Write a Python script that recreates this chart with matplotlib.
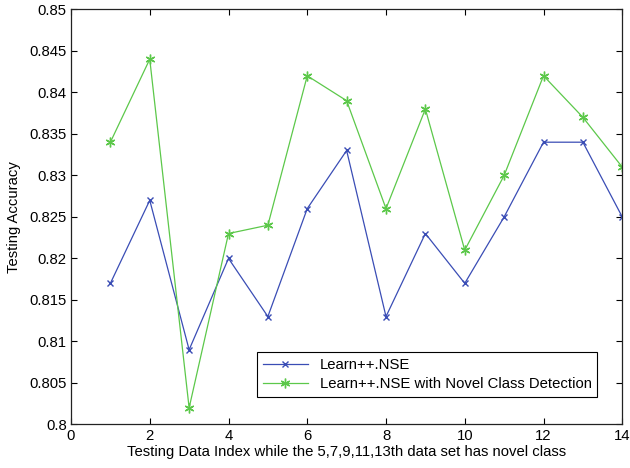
import numpy as np
import matplotlib.pyplot as plt

plt.rcParams['font.family'] = ['Liberation Sans', 'DejaVu Sans']

# Dados
indices = np.arange(1, 15)
nse = [0.817, 0.827, 0.809, 0.820, 0.813, 0.826, 0.833,
       0.813, 0.823, 0.817, 0.825, 0.834, 0.834, 0.825]
nse_novel = [0.834, 0.844, 0.802, 0.823, 0.824, 0.842, 0.839,
             0.826, 0.838, 0.821, 0.830, 0.842, 0.837, 0.831]
xticks = np.arange(0, 15, 2)
yticks = np.arange(0.8, 0.8501, 0.005)

fig = plt.figure(figsize=(6.3, 4.68), dpi=100)
ax = fig.add_axes([0.1127, 0.093, 0.875, 0.887])

ax.plot(indices, nse, color='#3a4db5', marker='x', markersize=4,
        linewidth=0.9, label='Learn++.NSE')
ax.plot(indices, nse_novel, color='#5cc84a', marker=(6, 2, 0), markersize=7,
        markeredgewidth=1.0, linewidth=0.9,
        label='Learn++.NSE with Novel Class Detection')

ax.set_xlim(0, 14)
ax.set_ylim(0.8, 0.85)
ax.set_xticks(xticks)
ax.set_yticks(yticks)
ax.set_yticklabels([f'{v:g}' for v in np.round(yticks, 3)])
ax.tick_params(direction='in', top=True, right=True, labelsize=10.7, length=4,
               pad=3)
for s in ax.spines.values():
    s.set_linewidth(0.9)
    s.set_color('#222222')

ax.set_xlabel('Testing Data Index while the 5,7,9,11,13th data set has novel class',
              fontsize=10.7, labelpad=2)
ax.set_ylabel('Testing Accuracy', fontsize=10.7, labelpad=6)

leg = ax.legend(loc='lower right', bbox_to_anchor=(0.955, 0.066), fontsize=10.7,
                fancybox=False, edgecolor='black', framealpha=1,
                borderaxespad=0, handlelength=3.0, borderpad=0.4,
                labelspacing=0.35)
leg.get_frame().set_linewidth(0.8)

plt.savefig('out.png', dpi=100)
